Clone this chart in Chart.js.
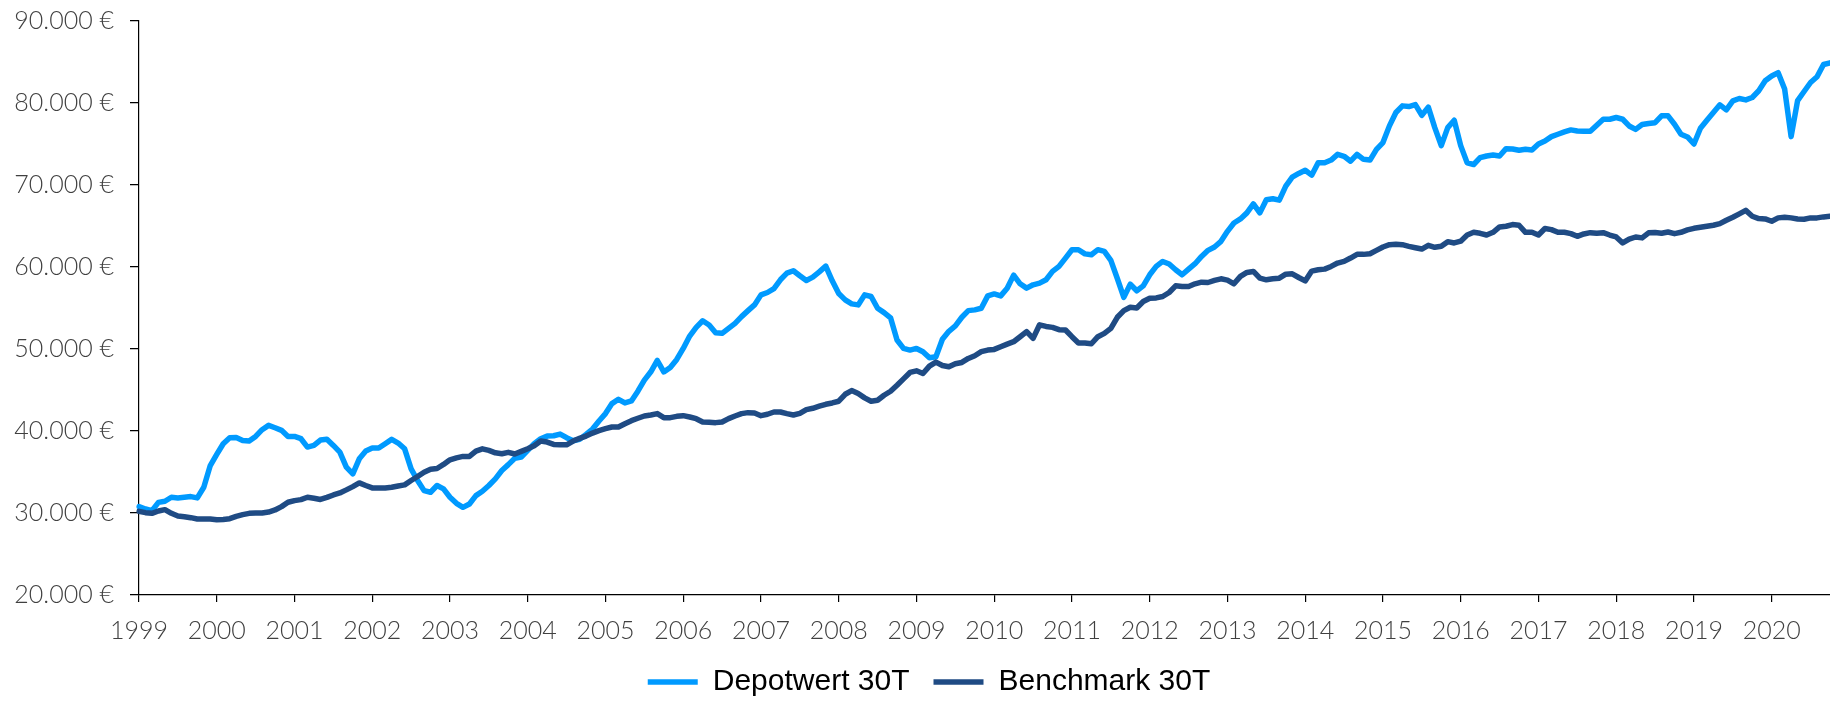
<!DOCTYPE html>
<html>
<head>
<meta charset="utf-8">
<script src="https://cdn.jsdelivr.net/npm/chart.js@4/dist/chart.umd.min.js"></script>
<style>
  html, body { margin: 0; padding: 0; background: #fff; overflow: hidden; }
  #wrap { width: 1830px; height: 707px; }
</style>
</head>
<body>
<div id="wrap"><canvas id="c" width="1830" height="707"></canvas></div>
<script>
// ---- data (monthly, Jan 1999 .. Oct 2020) ----
const startYear = 1999;
const yTicks = [20000, 30000, 40000, 50000, 60000, 70000, 80000, 90000];
const seriesNames = ['Depotwert 30T', 'Benchmark 30T'];

const depotwert = [
  30780,30490,30290,31300,31430,31920,31840,31920,32000,31840,33140,35790,
  37140,38450,39180,39220,38850,38770,39340,40160,40690,40400,40080,39340,
  39340,39060,38040,38240,38900,39000,38240,37430,35590,34770,36610,37550,
  37920,37920,38450,38980,38530,37830,35390,33960,32730,32530,33350,32940,
  31920,31180,30690,31100,32120,32650,33350,34160,35180,35900,36670,36810,
  37630,38450,39060,39380,39420,39630,39180,38810,38980,39590,40240,41220,
  42120,43340,43870,43420,43670,44850,46200,47220,48600,47200,47750,48730,
  50070,51580,52640,53440,52930,51990,51910,52520,53130,53950,54680,55380,
  56600,56890,57370,58440,59250,59540,58930,58360,58760,59400,60100,58320,
  56760,55990,55500,55380,56600,56400,54970,54440,53800,51100,50070,49870,
  50070,49670,48930,49050,51180,52160,52810,53870,54680,54770,54970,56480,
  56720,56480,57420,59010,57950,57420,57830,58030,58440,59460,60070,61090,
  62110,62110,61600,61500,62110,61910,60800,58600,56300,57900,57100,57700,
  59050,60070,60680,60360,59660,59050,59740,60400,61290,62030,62440,63130,
  64350,65370,65860,66600,67700,66600,68200,68330,68150,69860,70960,71410,
  71800,71200,72720,72720,73040,73740,73500,72900,73740,73130,73040,74350,
  75170,77210,78840,79650,79570,79800,78500,79500,77000,74800,77000,77900,
  74800,72700,72500,73330,73540,73660,73540,74430,74390,74230,74350,74270,
  75010,75370,75900,76190,76470,76720,76590,76550,76550,77290,78020,78020,
  78230,78020,77200,76780,77370,77510,77600,78430,78430,77410,76190,75860,
  75000,76920,77900,78840,79780,79160,80260,80550,80380,80670,81490,82710,
  83300,83700,81700,75900,80300,81400,82500,83200,84700,84900
];

const benchmark = [
  30200,30040,29960,30240,30410,29960,29630,29550,29430,29270,29270,29270,
  29180,29220,29310,29590,29800,29960,30000,30000,30120,30370,30780,31310,
  31510,31630,31920,31800,31650,31900,32200,32450,32820,33220,33670,33350,
  33060,33060,33060,33140,33300,33430,33960,34450,34980,35340,35430,35920,
  36490,36730,36900,36900,37550,37830,37630,37340,37220,37400,37200,37510,
  37830,38200,38770,38650,38360,38320,38320,38770,39100,39380,39750,40040,
  40280,40490,40490,40890,41260,41550,41830,41950,42120,41630,41630,41790,
  41870,41710,41500,41100,41080,41020,41100,41510,41830,42120,42240,42200,
  41870,42040,42320,42320,42120,41950,42160,42610,42770,43020,43260,43420,
  43630,44480,44930,44570,44040,43630,43750,44360,44850,45580,46360,47140,
  47340,47010,47910,48400,47990,47830,48200,48360,48850,49180,49670,49870,
  49950,50280,50600,50890,51500,52110,51300,52950,52750,52640,52360,52320,
  51500,50730,50730,50640,51500,51910,52520,53870,54680,55090,55010,55790,
  56190,56230,56400,56890,57700,57620,57620,57950,58150,58110,58360,58560,
  58400,57950,58850,59340,59460,58640,58440,58560,58640,59130,59170,58720,
  58300,59500,59660,59740,60070,60480,60680,61090,61540,61540,61620,62030,
  62440,62720,62760,62720,62520,62350,62190,62640,62400,62520,63090,62930,
  63150,63900,64230,64110,63900,64230,64880,64970,65170,65090,64230,64230,
  63900,64700,64560,64230,64230,64070,63740,64030,64190,64110,64190,63900,
  63660,62930,63400,63660,63550,64170,64210,64110,64270,64070,64230,64520,
  64720,64840,64970,65090,65290,65700,66070,66480,66900,66190,65900,65860,
  65580,65990,66070,65990,65860,65820,65990,65990,66110,66190
];

const categories = depotwert.map((_, i) =>
  (startYear + Math.floor(i / 12)) + '-' + String(i % 12 + 1).padStart(2, '0'));

function euro(v) {
  return String(v).replace(/\B(?=(\d{3})+(?!\d))/g, '.') + ' €';
}

const tickFont = { family: 'Lato', size: 25, weight: '300' };
const tickColor = '#404040';

// shift the legend block slightly right, as in the original
const legendShift = {
  id: 'legendShift',
  afterLayout(chart) {
    if (chart.legend) { chart.legend.left += 28; }
  }
};

new Chart(document.getElementById('c'), {
  type: 'line',
  plugins: [legendShift],
  data: {
    labels: categories,
    datasets: [
      {
        label: seriesNames[0],
        data: depotwert,
        borderColor: '#009AFF',
        backgroundColor: '#009AFF',
        borderWidth: 5.5,
        pointRadius: 0,
        pointHoverRadius: 0,
        pointStyle: 'line',
        borderCapStyle: 'round',
        borderJoinStyle: 'round',
        tension: 0,
        fill: false,
        order: 1
      },
      {
        label: seriesNames[1],
        data: benchmark,
        borderColor: '#1F4B84',
        backgroundColor: '#1F4B84',
        borderWidth: 5.5,
        pointRadius: 0,
        pointHoverRadius: 0,
        pointStyle: 'line',
        borderCapStyle: 'round',
        borderJoinStyle: 'round',
        tension: 0,
        fill: false,
        order: 0
      }
    ]
  },
  options: {
    responsive: false,
    animation: false,
    devicePixelRatio: 1,
    events: [],
    layout: { padding: { top: 21, left: 0, right: 0, bottom: 0 } },
    plugins: {
      tooltip: { enabled: false },
      title: { display: false },
      legend: {
        display: true,
        position: 'bottom',
        align: 'center',
        labels: {
          usePointStyle: true,
          pointStyleWidth: 50,
          padding: 24,
          color: '#000',
          font: { family: 'Liberation Sans', size: 30 },
          sort: (a, b) => a.datasetIndex - b.datasetIndex
        }
      }
    },
    scales: {
      x: {
        type: 'category',
        offset: false,
        border: { display: true, color: '#000', width: 1.2 },
        grid: {
          display: true,
          drawOnChartArea: false,
          drawTicks: true,
          tickLength: 7,
          color: '#000',
          lineWidth: 1.2,
          offset: false
        },
        ticks: {
          autoSkip: false,
          maxRotation: 0,
          minRotation: 0,
          padding: 14,
          color: tickColor,
          font: tickFont,
          callback: function (value, index) {
            return index % 12 === 0 ? categories[index].slice(0, 4) : null;
          }
        },
        afterFit: (scale) => { scale.height = 48; }
      },
      y: {
        type: 'linear',
        min: yTicks[0],
        max: yTicks[yTicks.length - 1],
        border: { display: true, color: '#000', width: 1.2 },
        grid: {
          display: true,
          drawOnChartArea: false,
          drawTicks: true,
          tickLength: 25,
          tickBorderDash: [0, 16, 9, 100],
          color: '#000',
          lineWidth: 1.2
        },
        afterBuildTicks: (scale) => { scale.ticks = yTicks.map(v => ({ value: v })); },
        ticks: {
          padding: 0,
          color: tickColor,
          font: tickFont,
          callback: (v) => euro(v)
        },
        afterFit: (scale) => { scale.width = 139; }
      }
    }
  }
});
</script>
</body>
</html>
